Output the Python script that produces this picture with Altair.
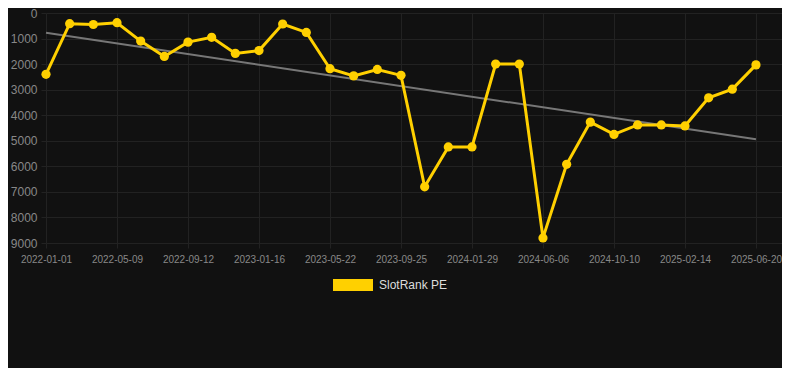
import altair as alt
import pandas as pd

# ---- data ----
dates = [
    "2022-01-01", "2022-02-12", "2022-03-26", "2022-05-09", "2022-06-20",
    "2022-08-01", "2022-09-12", "2022-10-24", "2022-12-05", "2023-01-16",
    "2023-02-27", "2023-04-10", "2023-05-22", "2023-07-03", "2023-08-14",
    "2023-09-25", "2023-11-06", "2023-12-18", "2024-01-29", "2024-03-12",
    "2024-04-24", "2024-06-06", "2024-07-18", "2024-08-29", "2024-10-10",
    "2024-11-21", "2025-01-02", "2025-02-14", "2025-03-28", "2025-05-09",
    "2025-06-20",
]
ranks = [
    2400, 420, 450, 380, 1100,
    1700, 1140, 950, 1580, 1470,
    430, 760, 2180, 2460, 2210,
    2440, 6800, 5240, 5240, 2000,
    2000, 8800, 5920, 4270, 4750,
    4380, 4380, 4420, 3320, 2980,
    2030,
]
y_ticks = [0, 1000, 2000, 3000, 4000, 5000, 6000, 7000, 8000, 9000]
series_name = "SlotRank PE"

YELLOW = "#FFD000"
GRID = "#222222"
LABEL = "#888888"
FONT = "Liberation Sans"

df = pd.DataFrame({
    "i": list(range(len(dates))),
    "date": dates,
    "rank": ranks,
    "series": [series_name] * len(dates),
})

label_expr = "[" + ",".join("'%s'" % d for d in dates) + "][datum.value]"
x_tick_idx = list(range(0, len(dates), 3))

x_enc = alt.X(
    "i:Q",
    scale=alt.Scale(domain=[0, 31.1], nice=False, zero=False),
    axis=alt.Axis(
        values=x_tick_idx, labelExpr=label_expr, title=None, grid=True,
        gridColor=GRID, tickColor=GRID, tickSize=5, domain=False,
        labelPadding=6, labelFontSize=10, labelColor=LABEL, labelFont=FONT,
        labelOverlap=False, labelFlush=False,
    ),
)
y_enc = alt.Y(
    "rank:Q",
    scale=alt.Scale(domain=[0, 9000], reverse=True, nice=False, zero=False),
    axis=alt.Axis(
        values=y_ticks, title=None, grid=True, gridColor=GRID, tickColor=GRID,
        tickSize=5, domain=False, labelPadding=4, labelFontSize=12,
        labelColor=LABEL, labelFont=FONT, format="d", labelOverlap=False,
        labelFlush=False,
    ),
)
color_enc = alt.Color(
    "series:N",
    scale=alt.Scale(domain=[series_name], range=[YELLOW]),
    legend=alt.Legend(
        title=None, orient="none", legendX=287, legendY=252,
        symbolType="M-1,-0.3H1V0.3H-1Z", symbolSize=1600,
        symbolFillColor=YELLOW, symbolStrokeWidth=0, symbolOpacity=1,
        labelColor="#dddddd", labelFontSize=12, labelFont=FONT, labelOffset=6,
    ),
)

base = alt.Chart(df)

trend = base.transform_regression("i", "rank").mark_line(
    color="#777777", strokeWidth=2
).encode(x=x_enc, y=y_enc)

line = base.mark_line(strokeWidth=3).encode(x=x_enc, y=y_enc, color=color_enc)
pts = base.mark_circle(size=85, opacity=1).encode(x=x_enc, y=y_enc, color=color_enc)

chart = alt.layer(trend, line, pts).properties(
    width=736, height=230, background="#111111",
    autosize=alt.AutoSizeParams(type="none"),
    padding={"left": 38, "top": 5, "right": 0, "bottom": 125},
).configure_view(stroke=None)

chart.save("out.html", embed_options={"renderer": "svg", "actions": False})
